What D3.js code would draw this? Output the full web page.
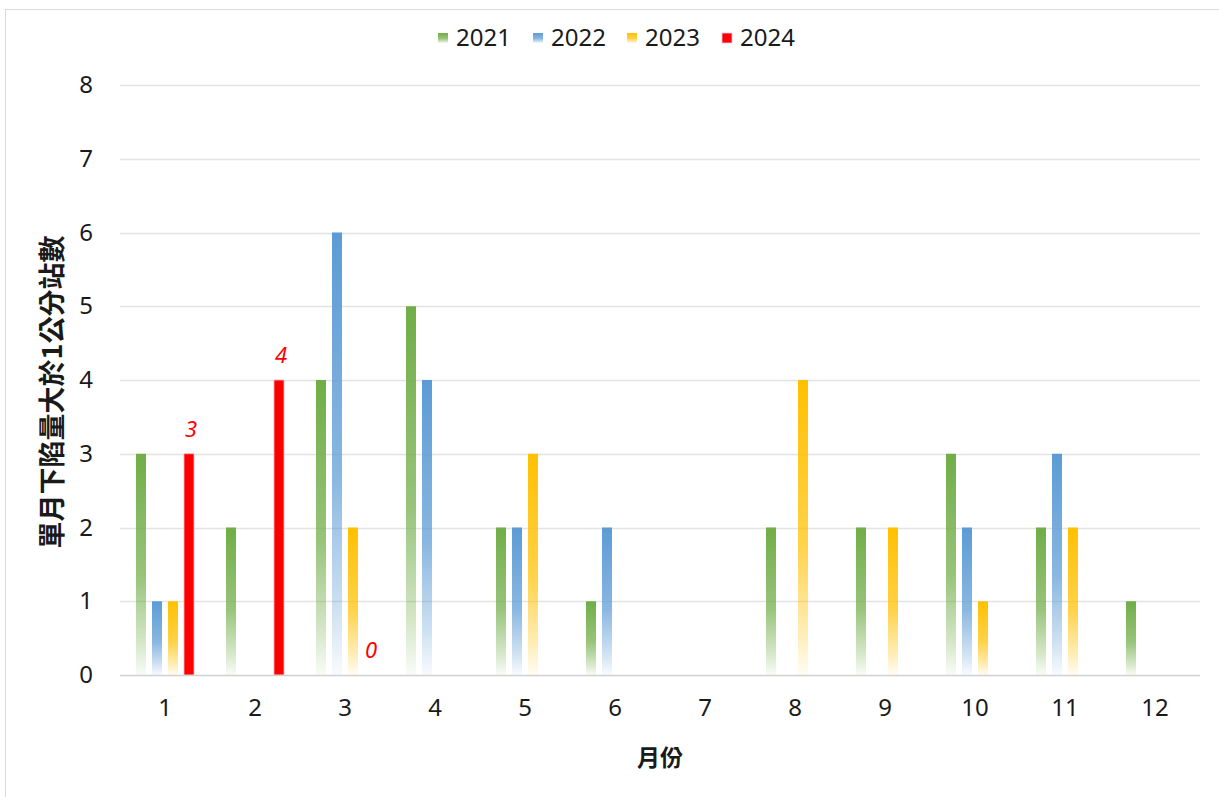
<!DOCTYPE html>
<html>
<head>
<meta charset="utf-8">
<script src="https://cdn.jsdelivr.net/npm/d3@7"></script>
<style>
  html, body { margin: 0; padding: 0; background: #fff; }
  svg { display: block; }
</style>
</head>
<body>
<svg id="chart" width="1219" height="797"></svg>
<script>
// Monthly count of stations with subsidence > 1 cm, by year
const months = ["1","2","3","4","5","6","7","8","9","10","11","12"];
const years = ["2021","2022","2023","2024"];
const colors = ["#70AD47", "#5B9BD5", "#FFC000", "#FF0000"];
const v2021 = [3, 2, 4, 5, 2, 1, 0, 2, 2, 3, 2, 1];
const v2022 = [1, 0, 6, 4, 2, 2, 0, 0, 0, 2, 3, 0];
const v2023 = [1, 0, 2, 0, 3, 0, 0, 4, 2, 1, 2, 0];
const v2024 = [3, 4, 0];
const yTicks = [0, 1, 2, 3, 4, 5, 6, 7, 8];
const yTitle = "單月下陷量大於1公分站數";
const xTitle = "月份";

const seriesValues = [v2021, v2022, v2023, v2024];

const svg = d3.select("#chart");
const margin = { left: 120, right: 19, top: 85, bottom: 122 };
const W = 1219, H = 797;
const numFont = "'Noto Sans', 'Open Sans', sans-serif";

// outer frame
svg.append("rect")
  .attr("x", 5.5).attr("y", 9.5)
  .attr("width", W + 10).attr("height", H + 10)
  .attr("fill", "#fff").attr("stroke", "#d9d9d9").attr("stroke-width", 1);

const x0 = d3.scaleBand().domain(months).range([margin.left, W - margin.right]);
const x1 = d3.scaleBand().domain(years).range([-32, 32]).paddingInner(0.375).paddingOuter(0.1875);
const y = d3.scaleLinear().domain([0, 8]).range([H - margin.bottom, margin.top]);

// vertical fade gradients for the first three series
const defs = svg.append("defs");
years.forEach((yr, i) => {
  const g = defs.append("linearGradient")
    .attr("id", "grad" + yr)
    .attr("x1", 0).attr("y1", 0).attr("x2", 0).attr("y2", 1);
  if (i < 3) {
    g.append("stop").attr("offset", "0%").attr("stop-color", colors[i]).attr("stop-opacity", 1);
    g.append("stop").attr("offset", "55%").attr("stop-color", colors[i]).attr("stop-opacity", 0.72);
    g.append("stop").attr("offset", "85%").attr("stop-color", colors[i]).attr("stop-opacity", 0.3);
    g.append("stop").attr("offset", "100%").attr("stop-color", colors[i]).attr("stop-opacity", 0.04);
  } else {
    g.append("stop").attr("offset", "0%").attr("stop-color", colors[i]);
    g.append("stop").attr("offset", "100%").attr("stop-color", colors[i]);
  }
});

// gridlines
svg.append("g")
  .selectAll("line")
  .data(yTicks.filter(t => t > 0))
  .join("line")
  .attr("x1", margin.left).attr("x2", W - margin.right)
  .attr("y1", d => Math.round(y(d)) + 0.5).attr("y2", d => Math.round(y(d)) + 0.5)
  .attr("stroke", "#e3e3e3").attr("stroke-width", 1.3);

// y axis labels
const yAxis = d3.axisLeft(y).tickValues(yTicks).tickSize(0).tickPadding(0);
svg.append("g")
  .attr("transform", `translate(${margin.left - 27},0)`)
  .call(yAxis)
  .call(g => g.select(".domain").remove())
  .call(g => g.selectAll("text")
    .attr("font-family", numFont)
    .attr("font-size", 24).attr("fill", "#1a1a1a"));

// bars
const data = [];
seriesValues.forEach((vals, i) => {
  vals.forEach((v, j) => data.push({ year: years[i], month: months[j], value: v, idx: i }));
});

svg.append("g")
  .selectAll("rect")
  .data(data.filter(d => d.value > 0))
  .join("rect")
  .attr("x", d => x0(d.month) + x0.bandwidth() / 2 + x1(d.year))
  .attr("width", x1.bandwidth())
  .attr("y", d => y(d.value))
  .attr("height", d => y(0) - y(d.value))
  .attr("fill", d => `url(#grad${d.year})`)
  .attr("stroke", d => d.idx === 3 ? "#f7b7c6" : "none")
  .attr("stroke-width", 0.8);

// x axis line
svg.append("line")
  .attr("x1", margin.left).attr("x2", W - margin.right)
  .attr("y1", Math.round(y(0)) + 0.5).attr("y2", Math.round(y(0)) + 0.5)
  .attr("stroke", "#d0d0d0").attr("stroke-width", 1.5);

// x axis labels
const xAxis = d3.axisBottom(x0).tickSize(0).tickPadding(0);
svg.append("g")
  .attr("transform", `translate(0,${y(0) + 41})`)
  .call(xAxis)
  .call(g => g.select(".domain").remove())
  .call(g => g.selectAll("text")
    .attr("dy", 0)
    .attr("font-family", numFont)
    .attr("font-size", 24).attr("fill", "#1a1a1a"));

// value labels for 2024
svg.append("g")
  .selectAll("text")
  .data(data.filter(d => d.idx === 3))
  .join("text")
  .attr("x", d => x0(d.month) + x0.bandwidth() / 2 + x1(d.year) + x1.bandwidth() / 2 + 2)
  .attr("y", d => y(d.value) - 17)
  .attr("text-anchor", "middle")
  .attr("font-family", numFont)
  .attr("font-style", "italic")
  .attr("font-size", 22)
  .attr("fill", "#FF0000")
  .text(d => d.value);

// axis titles
svg.append("text")
  .attr("transform", `translate(62,${(y(0) + y(8)) / 2 + 12}) rotate(-90)`)
  .attr("text-anchor", "middle")
  .attr("font-family", "'Noto Sans CJK TC', sans-serif")
  .attr("font-weight", 700)
  .attr("font-size", 27)
  .attr("fill", "#1a1a1a")
  .text(yTitle);

svg.append("text")
  .attr("x", (margin.left + W - margin.right) / 2)
  .attr("y", 766)
  .attr("text-anchor", "middle")
  .attr("font-family", "'Noto Sans CJK TC', sans-serif")
  .attr("font-weight", 700)
  .attr("font-size", 23)
  .attr("fill", "#1a1a1a")
  .text(xTitle);

// legend
const legendX = [438, 533, 627, 722];
const legend = svg.append("g");
years.forEach((yr, i) => {
  legend.append("rect")
    .attr("x", legendX[i]).attr("y", 33)
    .attr("width", 10).attr("height", 10)
    .attr("fill", `url(#grad${yr})`)
    .attr("stroke", i === 3 ? "#e0c8f0" : "none").attr("stroke-width", 0.8);
  legend.append("text")
    .attr("x", legendX[i] + 18).attr("y", 46)
    .attr("font-family", numFont)
    .attr("font-size", 24).attr("fill", "#1a1a1a")
    .text(yr);
});
</script>
</body>
</html>
